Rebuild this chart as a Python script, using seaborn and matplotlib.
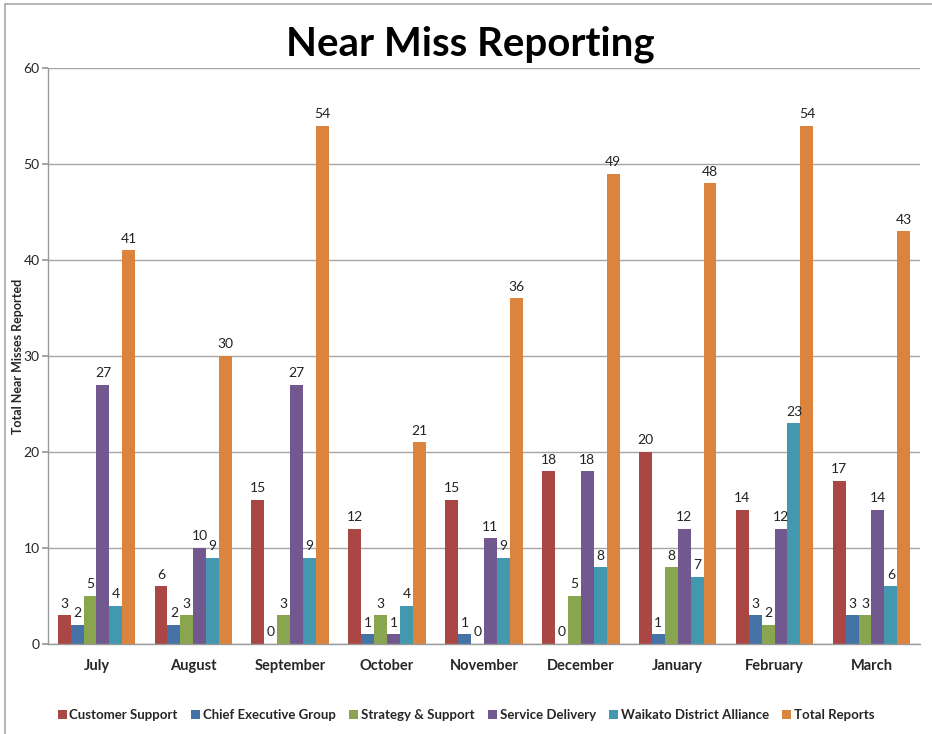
import matplotlib
matplotlib.use("Agg")
import matplotlib.pyplot as plt
import seaborn as sns
import pandas as pd
from matplotlib.lines import Line2D
from matplotlib.patches import Patch

months = ["July", "August", "September", "October", "November",
          "December", "January", "February", "March"]
series = ["Customer Support", "Chief Executive Group", "Strategy & Support",
          "Service Delivery", "Waikato District Alliance", "Total Reports"]

customer_support = [3, 6, 15, 12, 15, 18, 20, 14, 17]
chief_executive = [2, 2, 0, 1, 1, 0, 1, 3, 3]
strategy_support = [5, 3, 3, 3, 0, 5, 8, 2, 3]
service_delivery = [27, 10, 27, 1, 11, 18, 12, 12, 14]
waikato_alliance = [4, 9, 9, 4, 9, 8, 7, 23, 6]
total_reports = [41, 30, 54, 21, 36, 49, 48, 54, 43]

colors = ["#AA4644", "#4572A7", "#89A54E", "#71588F", "#4198AF", "#DB843D"]

values = [customer_support, chief_executive, strategy_support,
          service_delivery, waikato_alliance, total_reports]
rows = []
for name, vals in zip(series, values):
    for m, v in zip(months, vals):
        rows.append({"Month": m, "Series": name, "Count": v})
df = pd.DataFrame(rows)

sns.set_theme(style="white")
plt.rcParams["font.family"] = ["Lato", "DejaVu Sans"]

fig = plt.figure(figsize=(9.32, 7.34), dpi=100)
ax = fig.add_axes([0.0515, 0.1226, 0.9355, 0.7848])

sns.barplot(data=df, x="Month", y="Count", hue="Series", order=months,
            hue_order=series, palette=colors, width=0.8, saturation=1,
            ax=ax, legend=False, linewidth=0)

for container in ax.containers:
    ax.bar_label(container, labels=[f"{int(v)}" for v in container.datavalues],
                 padding=4, fontsize=10, color="#222222")

ax.set_ylim(0, 60)
ax.set_yticks(range(0, 61, 10))
ax.set_xlim(-0.5, len(months) - 0.5)
ax.yaxis.grid(True, color="#A6A6A6", linewidth=1)
ax.set_axisbelow(True)
for side in ["top", "right"]:
    ax.spines[side].set_visible(False)
for side in ["left", "bottom"]:
    ax.spines[side].set_color("#999999")
    ax.spines[side].set_linewidth(1)
ax.tick_params(axis="y", left=True, length=4, color="#999999",
               labelsize=10, pad=2)
ax.tick_params(axis="x", bottom=False, labelsize=10.5, pad=5)
for lbl in ax.get_xticklabels():
    lbl.set_fontweight("bold")
ax.set_xlabel("")
ax.set_ylabel("Total Near Misses Reported", fontsize=9, fontweight="bold")
ax.yaxis.set_label_coords(-0.027, 0.5)

fig.text(0.505, 0.94, "Near Miss Reporting", ha="center", va="center",
         fontsize=29, fontweight="bold", color="black")

handles = [Patch(facecolor=c, edgecolor="none") for c in colors]
fig.legend(handles, series, loc="center", bbox_to_anchor=(0.5, 0.026),
           ncol=6, frameon=False, handlelength=0.7,
           handleheight=0.7, handletextpad=0.2, columnspacing=1.0,
           prop={"weight": "bold", "size": 9.5})

# chart area frame: top and left edges
fig.lines.append(Line2D([0.0055, 1.0], [0.9945, 0.9945],
                        transform=fig.transFigure, color="#A8A8A8",
                        linewidth=1.2))
fig.lines.append(Line2D([0.0055, 0.0055], [0.0, 0.9945],
                        transform=fig.transFigure, color="#A8A8A8",
                        linewidth=1.2))

fig.savefig("out.png", dpi=100)
